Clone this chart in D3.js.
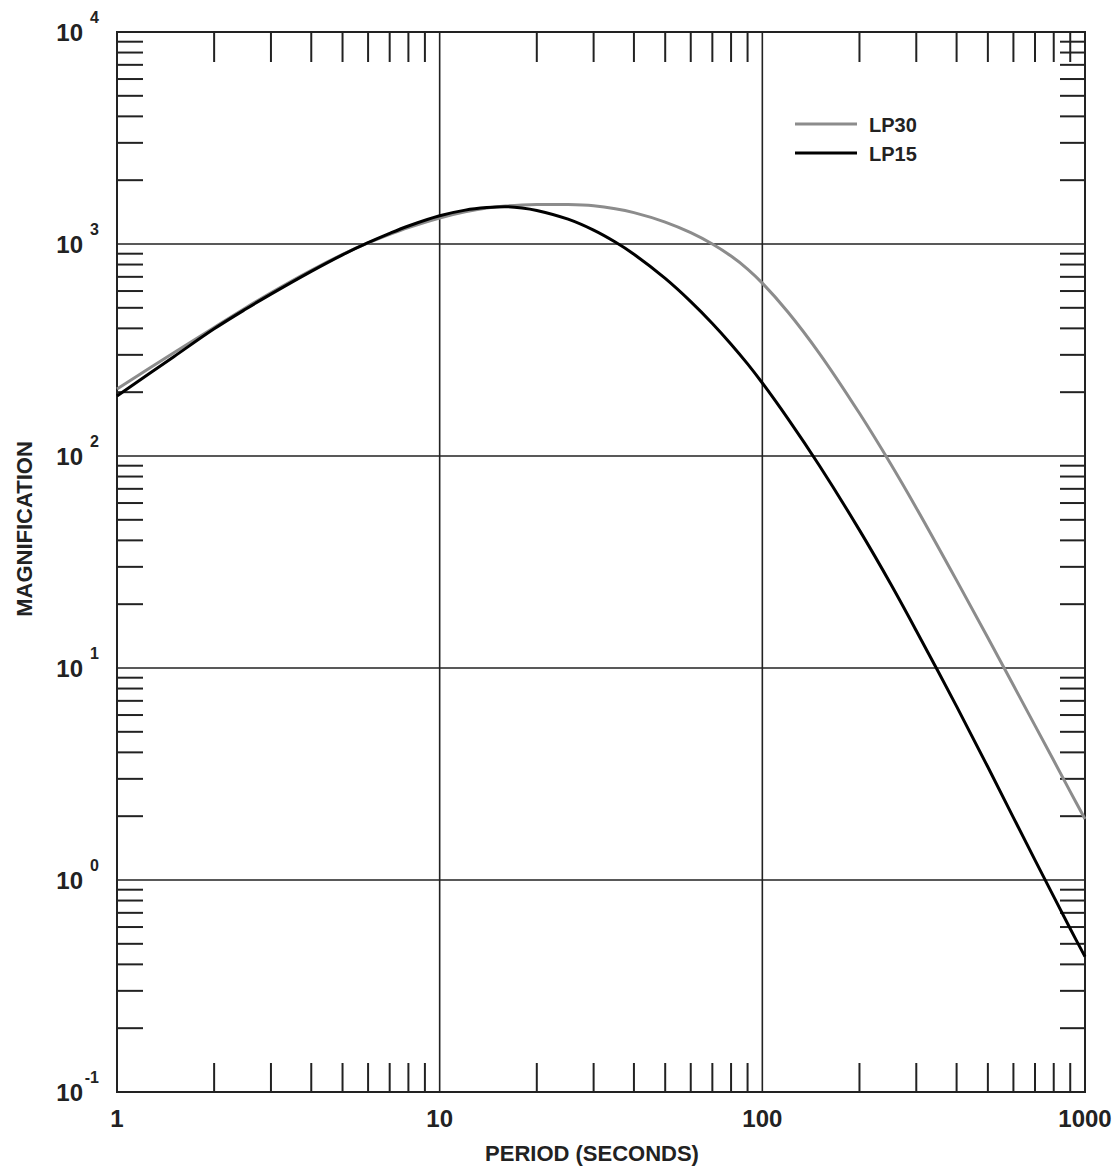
<!DOCTYPE html>
<html>
<head>
<meta charset="utf-8">
<script src="https://d3js.org/d3.v7.min.js"></script>
<style>
body {margin:0; background:#fff;}
text {font-family: Arial, "Liberation Sans", sans-serif; font-weight: bold; fill:#222;}
</style>
</head>
<body>
<div id="chart"></div>
<script>
var periods = [1, 1.5, 2, 2.5, 3, 4, 5, 6, 7, 8, 10, 12, 14, 16, 18, 20, 25, 30, 35, 40,
    50, 60, 70, 80, 90, 100, 120, 150, 200, 250, 300, 400, 500, 600, 700, 800, 900, 1000];

// magnification of each instrument
var lp30 = [207, 307, 404, 499, 589, 752, 893, 1011, 1110, 1195, 1327, 1419, 1478, 1510, 1527, 1535, 1535, 1514, 1467, 1406,
    1269, 1131, 1000, 877, 762, 654, 478, 306, 159, 91.7, 56.9, 25.9, 13.9, 8.29, 5.35, 3.66, 2.61, 1.94];
var lp15 = [192, 294, 398, 492, 580, 743, 889, 1014, 1122, 1216, 1359, 1445, 1485, 1500, 1479, 1440, 1309, 1162, 1021, 895,
    688, 535, 422, 337, 272, 221, 150, 90.4, 44.7, 24.9, 15.0, 6.59, 3.41, 1.97, 1.24, 0.835, 0.589, 0.435];

var seriesNames = ["LP30", "LP15"];
var seriesColors = ["#8c8c8c", "#000"];

// tick labels
var xLabels = ["1", "10", "100", "1000"];
var yExponents = ["-1", "0", "1", "2", "3", "4"];

// dimension and margin of graph
var margin = {top:32, right:30, bottom:80, left:117},
width = 1115 - margin.left - margin.right,
height = 1172 - margin.top - margin.bottom;

var svg = d3.select("#chart").append("svg")
    .attr("width", 1115)
    .attr("height", 1172);

var x = d3.scaleLog().domain([1, 1000]).range([margin.left, margin.left + width]);
var y = d3.scaleLog().domain([0.1, 10000]).range([margin.top + height, margin.top]);

var x0 = margin.left, x1 = margin.left + width,
y0 = margin.top + height, y1 = margin.top;

var isMajor = function(v) {return Math.abs(Math.log10(v) - Math.round(Math.log10(v))) < 1e-9;};

// minor ticks, inside the frame on all four sides
var grid = svg.append("g").attr("stroke", "#222");
x.ticks().filter(function(d) {return !isMajor(d);}).forEach(function(d) {
    grid.append("line").attr("x1", x(d)).attr("x2", x(d)).attr("y1", y1).attr("y2", y1 + 30).attr("stroke-width", 2);
    grid.append("line").attr("x1", x(d)).attr("x2", x(d)).attr("y1", y0).attr("y2", y0 - 29).attr("stroke-width", 2);
});
y.ticks().filter(function(d) {return !isMajor(d);}).forEach(function(d) {
    grid.append("line").attr("x1", x0).attr("x2", x0 + 26).attr("y1", y(d)).attr("y2", y(d)).attr("stroke-width", 2);
    grid.append("line").attr("x1", x1).attr("x2", x1 - 25).attr("y1", y(d)).attr("y2", y(d)).attr("stroke-width", 2);
});

// major grid lines
x.ticks().filter(isMajor).forEach(function(d) {
    grid.append("line").attr("x1", x(d)).attr("x2", x(d)).attr("y1", y1).attr("y2", y0).attr("stroke-width", 1.6);
});
y.ticks().filter(isMajor).forEach(function(d) {
    grid.append("line").attr("x1", x0).attr("x2", x1).attr("y1", y(d)).attr("y2", y(d)).attr("stroke-width", 1.6);
});

// frame
svg.append("rect")
    .attr("x", x0).attr("y", y1)
    .attr("width", width).attr("height", height)
    .attr("fill", "none").attr("stroke", "#222").attr("stroke-width", 2);

// the curves
var line = d3.line()
    .x(function(d) {return x(d[0]);})
    .y(function(d) {return y(d[1]);})
    .curve(d3.curveCatmullRom.alpha(0.5));

[lp30, lp15].forEach(function(vals, i) {
    svg.append("path")
        .datum(periods.map(function(p, j) {return [p, vals[j]];}))
        .attr("d", line)
        .attr("fill", "none")
        .attr("stroke", seriesColors[i])
        .attr("stroke-width", 3);
});

// legend
var legend = svg.append("g");
seriesNames.forEach(function(name, i) {
    var ly = 124 + i * 29;
    legend.append("line")
        .attr("x1", 795).attr("x2", 857).attr("y1", ly).attr("y2", ly)
        .attr("stroke", seriesColors[i]).attr("stroke-width", 3);
    legend.append("text")
        .attr("x", 869).attr("y", ly + 8)
        .style("font-size", "20px")
        .text(name);
});

// x tick labels
svg.append("g").selectAll("text")
    .data(xLabels)
    .enter().append("text")
    .attr("x", function(d) {return x(+d);})
    .attr("y", 1127)
    .attr("text-anchor", "middle")
    .style("font-size", "24px")
    .text(function(d) {return d;});

// y tick labels, 10 with an exponent
var ylab = svg.append("g").selectAll("g")
    .data(yExponents)
    .enter().append("g");
ylab.append("text")
    .attr("x", 83)
    .attr("y", function(d) {return y(Math.pow(10, +d)) + 9;})
    .attr("text-anchor", "end")
    .style("font-size", "24px")
    .text("10");
ylab.append("text")
    .attr("x", 99)
    .attr("y", function(d) {return y(Math.pow(10, +d)) - 9;})
    .attr("text-anchor", "end")
    .style("font-size", "16px")
    .text(function(d) {return d;});

// axis titles
svg.append("text")
    .attr("x", 592).attr("y", 1161)
    .attr("text-anchor", "middle")
    .style("font-size", "22px")
    .text("PERIOD (SECONDS)");

svg.append("text")
    .attr("transform", "translate(32,529) rotate(-90)")
    .attr("text-anchor", "middle")
    .style("font-size", "22px")
    .text("MAGNIFICATION");
</script>
</body>
</html>
